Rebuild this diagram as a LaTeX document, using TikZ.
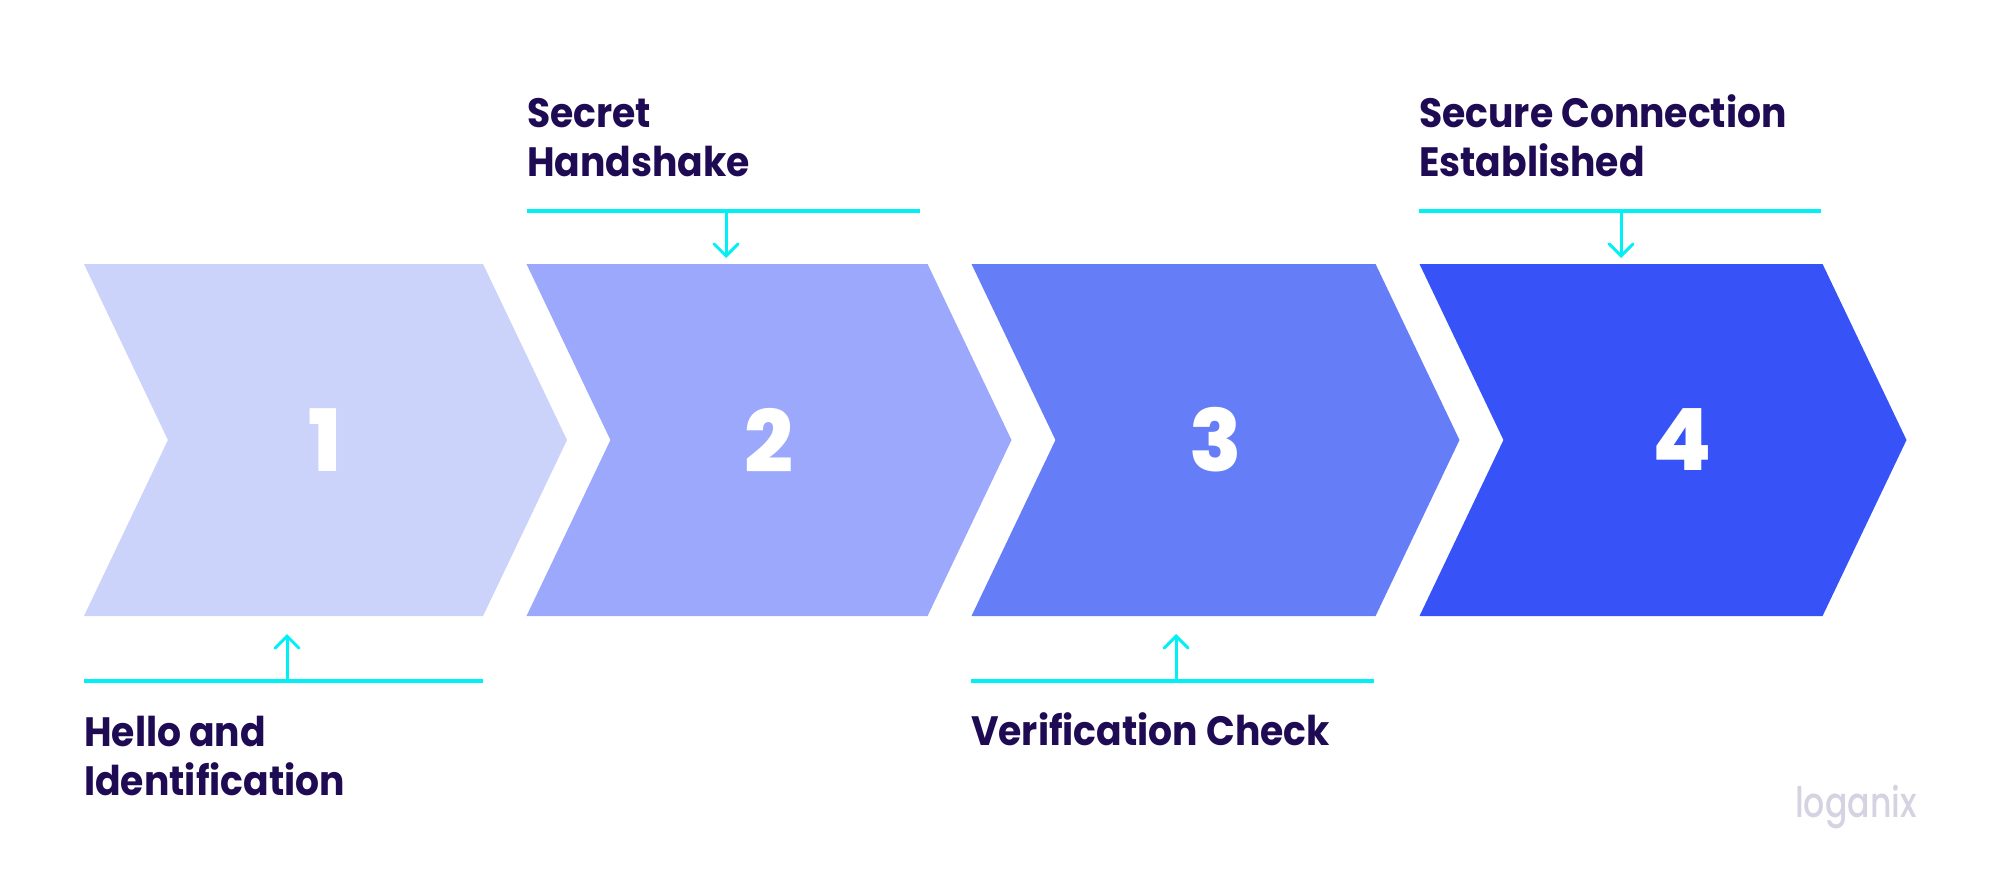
\documentclass[tikz,border=0pt]{standalone}
\usepackage{fontspec}
\setmainfont{Poppins}
\newfontfamily\labfont[FakeStretch=0.92]{Poppins}
\newfontfamily\numfont{Poppins ExtraBold}
\newfontfamily\logofont[FakeStretch=0.79]{Poppins Medium}
\usetikzlibrary{positioning,calc,shapes.symbols,arrows.meta}
\definecolor{inkblue}{HTML}{1F0A54}
\definecolor{barcyan}{HTML}{00F0F5}
\definecolor{logogray}{HTML}{D5D2E2}
\definecolor{step1}{HTML}{CCD3FB}
\definecolor{step2}{HTML}{9BA8FB}
\definecolor{step3}{HTML}{667DF8}
\definecolor{step4}{HTML}{3753F8}

\begin{document}
\begin{tikzpicture}[
    x=1pt,
    y=-1pt,
    chev/.style={
        signal,
        signal from=west,
        signal to=east,
        signal pointer angle=129,
        inner sep=0pt,
        minimum height=352pt,
        text=white,
        font=\fontsize{86}{86}\numfont,
        },
    lab/.style={
        text=inkblue,
        inner sep=0pt,
        align=left,
        font=\fontsize{41}{49}\labfont\bfseries,
        },
    bar/.style={
        draw=barcyan,
        line width=3.4pt,
        },
    pointer/.style={
        draw=barcyan,
        line width=3pt,
        -{Straight Barb[length=12pt,width=24pt,line cap=round]},
        },
]
\useasboundingbox (0,0) rectangle (1999,894);

\node[chev, fill=step1, minimum width=483pt](s1) at (325.5,440){1};
\node[chev, fill=step2, minimum width=485pt](s2) at (769,440){2};
\node[chev, fill=step3, minimum width=488pt](s3) at (1215.5,440){3};
\node[chev, fill=step4, minimum width=487pt](s4) at (1663,440){\hspace{38pt}4};

% bars above the steps
\coordinate (b2l) at (527,211);
\coordinate (b2r) at (920,211);
\coordinate (b4l) at (1419,211);
\coordinate (b4r) at (1821,211);
\draw[bar] (b2l) -- (b2r);
\draw[bar] (b4l) -- (b4r);
\draw[pointer] (726,211) -- (726,258);
\draw[pointer] (1621,211) -- (1621,258);

% bars below the steps
\coordinate (b1l) at (84,681);
\coordinate (b1r) at (483,681);
\coordinate (b3l) at (971,681);
\coordinate (b3r) at (1374,681);
\draw[bar] (b1l) -- (b1r);
\draw[bar] (b3l) -- (b3r);
\draw[pointer] (287,681) -- (287,634);
\draw[pointer] (1176,681) -- (1176,634);

\node[lab, anchor=south west](t2) at (527,177){Secret\\Handshake};
\node[lab, anchor=south west](t4) at (1419,177){Secure Connection\\Established};
\node[lab, anchor=north west](t1) at (84,716){Hello and\\Identification};
\node[lab, anchor=north west](t3) at (971,712){Verification Check};

\node[anchor=base west, inner sep=0pt, text=logogray,
    font=\fontsize{42}{42}\logofont](logo) at (1795,817){loganix};
\end{tikzpicture}
\end{document}
